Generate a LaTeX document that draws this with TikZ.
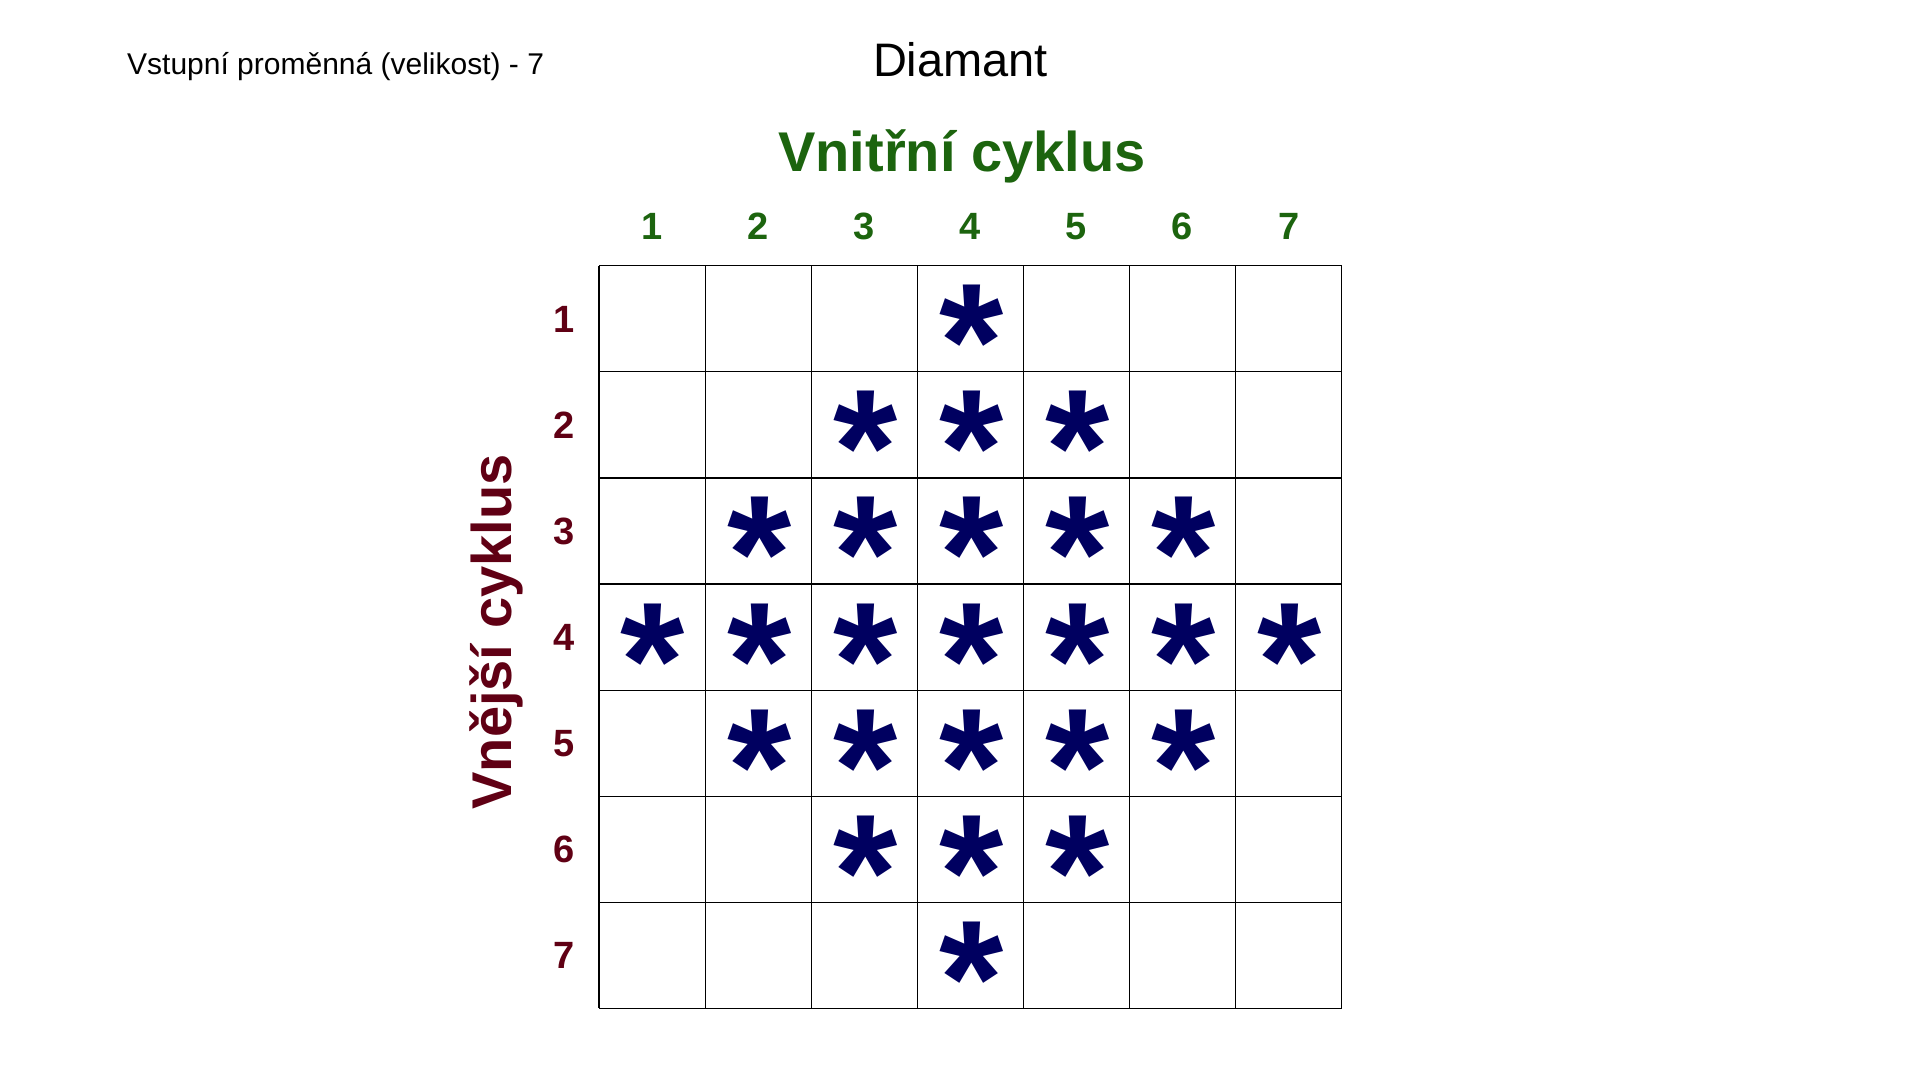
\documentclass[tikz,border=0pt]{standalone}
\usepackage{fontspec}
\setmainfont{Liberation Sans}
\definecolor{cgreen}{RGB}{28,100,14}
\definecolor{cred}{RGB}{96,0,20}
\definecolor{cnavy}{RGB}{0,0,96}
\begin{document}
\begin{tikzpicture}[x=1pt,y=-1pt,
  gridline/.style={line width=1.2pt,black},
  txt/.style={inner sep=0pt,anchor=base},
  header/.style={txt,anchor=base west,font=\fontsize{30}{36}\selectfont},
  title/.style={txt,font=\fontsize{47}{56}\selectfont},
  inner/.style={txt,text=cgreen,font=\fontsize{56}{66}\selectfont\bfseries},
  outer/.style={txt,text=cred,font=\fontsize{56}{66}\selectfont\bfseries,rotate=90},
  colnum/.style={txt,text=cgreen,font=\fontsize{38}{44}\selectfont\bfseries},
  rownum/.style={txt,text=cred,font=\fontsize{38}{44}\selectfont\bfseries},
  asterisk/.style={inner sep=0pt,anchor=center,text height=0.17em,text depth=0.17em,
    text=cnavy,font=\fontsize{165}{190}\selectfont\bfseries}]
\useasboundingbox[fill=white] (0,0) rectangle (1920,1080);
\def\L{599}
\def\T{265.7}
\def\C{106.1}
\node[header] (hdr) at (127,74.5) {Vstupní proměnná (velikost) - 7};
\node[title] (ttl) at (960.5,76.7) {Diamant};
\node[inner] (inn) at (962,171) {Vnitřní cyklus};
\node[outer] (out) at (511,632) {Vnější cyklus};
\foreach \i in {0,...,7} {
  \draw[gridline] ({\L+\i*\C},\T) -- ({\L+\i*\C},{\T+7*\C});
  \draw[gridline] (\L,{\T+\i*\C}) -- ({\L+7*\C},{\T+\i*\C});
}
\foreach \i in {1,...,7} {
  \node[colnum] (col-\i) at ({\L+(\i-0.5)*\C},239) {\i};
  \node[rownum] (row-\i) at (564,{\T+(\i-0.5)*\C+13.6}) {\i};
}
\foreach \r in {1,...,7} {
  \foreach \c in {1,...,7} {
    \pgfmathtruncatemacro\d{abs(\r-4)+abs(\c-4)}
    \ifnum\d<4
      \node[asterisk] (s-\r-\c) at ({\L+(\c-0.5)*\C+1},{\T+(\r-0.5)*\C-2}) {\raisebox{-0.497em}{*}};
    \fi
  }
}
\end{tikzpicture}
\end{document}
